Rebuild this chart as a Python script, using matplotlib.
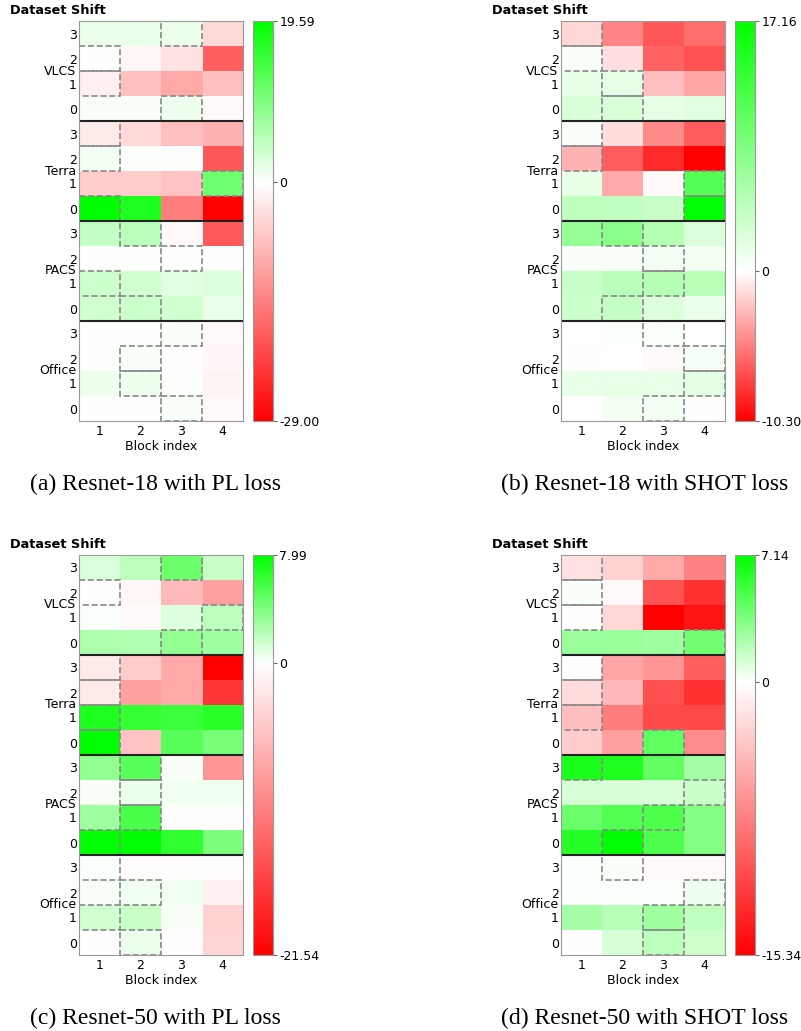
import numpy as np
import matplotlib
matplotlib.use("Agg")
import matplotlib.pyplot as plt
from matplotlib.colors import LinearSegmentedColormap, Normalize
from matplotlib.patches import Rectangle

# rows from top to bottom: VLCS 3..0, Terra 3..0, PACS 3..0, Office 3..0
datasets = ["VLCS", "Terra", "PACS", "Office"]
row_labels = ["3", "2", "1", "0"]
blocks = [1, 2, 3, 4]

pl18 = [
    [1.5, 1.7, 1.5, -4.5],
    [0.2, -1.0, -3.0, -18.0],
    [-1.8, -7.3, -9.7, -7.2],
    [0.6, 0.6, 1.3, -0.6],
    [-2.4, -4.4, -7.2, -8.8],
    [0.8, 0.2, 0.2, -19.0],
    [-5.8, -5.8, -6.8, 11.2],
    [19.59, 17.3, -14.5, -29.00],
    [4.3, 5.3, -0.6, -18.8],
    [0.1, 0.1, 0.05, 0.1],
    [3.9, 3.5, 2.3, 2.6],
    [3.5, 3.9, 3.5, 1.6],
    [0.2, 0.2, 0.5, -0.6],
    [0.2, 0.6, -0.3, -0.9],
    [1.3, 1.2, 0.1, -1.2],
    [-0.2, 0.2, 0.6, -0.7],
]
shot18 = [
    [-1.6, -4.9, -6.7, -5.9],
    [0.5, -1.2, -6.3, -6.9],
    [1.7, 1.7, -2.5, -3.6],
    [2.6, 2.6, 1.7, 2.0],
    [0.5, -1.3, -4.7, -6.5],
    [-3.1, -6.5, -8.5, -10.30],
    [1.7, -3.4, -0.2, 11.5],
    [4.3, 4.2, 3.7, 17.16],
    [7.0, 8.0, 5.0, 2.4],
    [0.5, 0.5, 0.7, 0.7],
    [3.6, 4.7, 5.0, 4.8],
    [3.5, 3.8, 2.3, 1.3],
    [0.1, 0.3, 0.4, 0.0],
    [0.2, 0.1, -0.2, 0.6],
    [1.6, 1.5, 1.5, 1.9],
    [0.0, 0.7, 0.8, -0.1],
]
pl50 = [
    [1.1, 2.0, 4.6, 1.7],
    [-0.1, -0.7, -5.9, -8.0],
    [0.05, -0.4, 1.0, 2.0],
    [2.5, 2.4, 3.3, 3.0],
    [-1.7, -4.3, -7.2, -21.54],
    [-1.7, -8.0, -7.2, -16.9],
    [7.0, 6.3, 6.1, 6.7],
    [7.99, -5.1, 5.2, 4.2],
    [3.3, 5.2, 0.2, -8.9],
    [0.2, 0.5, 0.4, 0.4],
    [3.0, 5.6, -0.3, -0.3],
    [7.8, 7.95, 6.4, 4.0],
    [0.1, -0.2, -0.2, -0.3],
    [0.2, 0.4, 0.4, -1.2],
    [1.4, 1.7, 0.2, -3.8],
    [-0.1, 0.5, 0.0, -3.6],
]
shot50 = [
    [-1.8, -2.7, -5.1, -7.5],
    [0.2, -0.4, -10.2, -12.3],
    [0.0, -2.4, -15.34, -14.1],
    [2.8, 2.8, 2.7, 3.9],
    [-0.1, -5.4, -6.3, -9.6],
    [-2.1, -4.2, -10.5, -12.3],
    [-3.9, -7.8, -10.8, -10.9],
    [-3.0, -5.7, 4.5, -6.9],
    [6.4, 6.3, 4.4, 2.5],
    [1.1, 1.1, 1.0, 1.5],
    [4.1, 4.8, 5.0, 3.4],
    [6.0, 7.14, 4.9, 3.4],
    [0.1, 0.2, -0.3, -0.3],
    [0.1, 0.1, 0.1, 0.4],
    [2.4, 2.0, 2.7, 1.7],
    [0.0, 1.1, 1.8, 1.4],
]

# block (1..4) marked with a dashed box in each row
box_pl18 = [3, 1, 1, 3, 1, 1, 4, 1, 2, 3, 1, 2, 3, 2, 2, 3]
box_shot18 = [1, 1, 2, 2, 1, 1, 4, 4, 2, 3, 3, 2, 3, 4, 4, 3]
box_pl50 = [3, 1, 4, 3, 1, 1, 1, 1, 2, 2, 2, 1, 1, 2, 1, 2]
box_shot50 = [1, 1, 1, 4, 1, 1, 1, 3, 1, 4, 3, 2, 2, 4, 3, 3]

captions = ["(a) Resnet-18 with PL loss", "(b) Resnet-18 with SHOT loss",
            "(c) Resnet-50 with PL loss", "(d) Resnet-50 with SHOT loss"]

W, H = 801, 1031
fig = plt.figure(figsize=(W / 100, H / 100), dpi=100)
plt.rcParams['font.size'] = 9


def px(x0, y0, w, h):
    return [x0 / W, 1 - (y0 + h) / H, w / W, h / H]


panels = [
    (pl18, box_pl18, 79, 21, 400),
    (shot18, box_shot18, 561, 21, 400),
    (pl50, box_pl50, 79, 555, 400),
    (shot50, box_shot50, 561, 555, 400),
]
cap_x = [155, 645, 155, 645]

for k, (vals, boxes, x0, y0, h) in enumerate(panels):
    data = np.array(vals)
    vmin, vmax = data.min(), data.max()
    z = -vmin / (vmax - vmin)
    cmap = LinearSegmentedColormap.from_list(
        "rwg", [(0, (1, 0, 0)), (z, (1, 1, 1)), (1, (0, 1, 0))])
    norm = Normalize(vmin=vmin, vmax=vmax)

    ax = fig.add_axes(px(x0, y0, 164, h))
    im = ax.imshow(data, cmap=cmap, norm=norm, aspect='auto',
                   extent=(0.5, 4.5, 15.5, -0.5), interpolation='nearest')
    for r, c in enumerate(boxes):
        ax.add_patch(Rectangle((c - 0.5, r - 0.5), 1, 1, fill=False,
                               ls='--', ec='#888888', lw=1.2))
    for yb in [3.5, 7.5, 11.5]:
        ax.axhline(yb, color='#222222', lw=1.5)

    ax.set_xlim(0.5, 4.5)
    ax.set_ylim(15.5, -0.5)
    ax.set_xticks(blocks)
    ax.set_yticks(range(16))
    ax.set_yticklabels(row_labels * 4)
    ax.tick_params(axis='both', length=0, labelsize=9)
    ax.tick_params(axis='y', pad=1.5)
    ax.tick_params(axis='x', pad=3)
    ax.set_xlabel("Block index", fontsize=9, labelpad=1)
    for i, name in enumerate(datasets):
        ax.text(-0.015, 4 * i + 1.5, name, transform=ax.get_yaxis_transform(),
                ha='right', va='center', fontsize=9)
    for s in ax.spines.values():
        s.set_color('#999999')

    fig.text((x0 - 69) / W, 1 - (y0 - 11) / H, "Dataset Shift",
             fontsize=9.3, fontweight='bold', ha='left', va='center')

    cax = fig.add_axes(px(x0 + 174, y0, 20, h))
    cb = fig.colorbar(im, cax=cax)
    cb.set_ticks([vmin, 0, vmax])
    cb.set_ticklabels([f"{vmin:.2f}", "0", f"{vmax:.2f}"])
    cb.outline.set_edgecolor('#999999')
    cax.tick_params(length=3, pad=1.5, color='#666666', labelsize=9)

    fig.text(cap_x[k] / W, 1 - (y0 + h + 63) / H, captions[k],
             fontsize=17, family='Liberation Serif', ha='center', va='center')

fig.savefig("out.png", dpi=100)
